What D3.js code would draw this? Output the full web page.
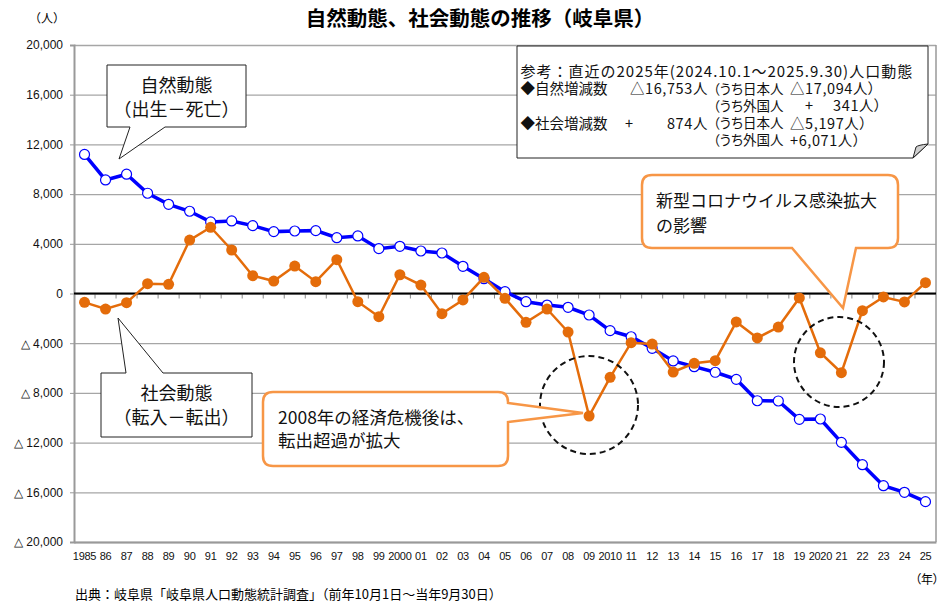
<!DOCTYPE html>
<html>
<head>
<meta charset="utf-8">
<script src="https://cdn.jsdelivr.net/npm/d3@7"></script>
<style>
  body { margin: 0; background: #fff; }
  text { font-family: 'Noto Sans CJK JP', 'Noto Sans', sans-serif; }
</style>
</head>
<body>
<div id="chart"></div>
<script>
const years = [1985, 1986, 1987, 1988, 1989, 1990, 1991, 1992, 1993, 1994, 1995, 1996, 1997, 1998, 1999,
  2000, 2001, 2002, 2003, 2004, 2005, 2006, 2007, 2008, 2009, 2010, 2011, 2012, 2013, 2014, 2015,
  2016, 2017, 2018, 2019, 2020, 2021, 2022, 2023, 2024, 2025]
const yearLabels = ['1985', '86', '87', '88', '89', '90', '91', '92', '93', '94', '95', '96', '97', '98', '99',
  '2000', '01', '02', '03', '04', '05', '06', '07', '08', '09', '2010', '11', '12', '13', '14', '15',
  '16', '17', '18', '19', '2020', '21', '22', '23', '24', '25']

// 自然動態（出生－死亡）
const naturalChange = [11190, 9140, 9600, 8070, 7180, 6620, 5760, 5840, 5460, 4980, 5030, 5060, 4490, 4630, 3610,
  3800, 3420, 3260, 2190, 1190, 150, -660, -930, -1110, -1730, -2990, -3480, -4410, -5430, -5890, -6340,
  -6910, -8630, -8650, -10130, -10100, -11980, -13780, -15470, -16000, -16753]
// 社会動態（転入－転出）
const socialChange = [-710, -1250, -740, 790, 740, 4300, 5330, 3500, 1430, 1000, 2210, 950, 2720, -660, -1870,
  1510, 680, -1620, -520, 1300, -390, -2320, -1250, -3100, -9860, -6750, -3960, -4070, -6320, -5620, -5410,
  -2290, -3580, -2700, -360, -4770, -6370, -1380, -280, -680, 874]

const yTicks = [20000, 16000, 12000, 8000, 4000, 0, -4000, -8000, -12000, -16000, -20000]
const yTickLabels = ['20,000', '16,000', '12,000', '8,000', '4,000', '0',
  '△ 4,000', '△ 8,000', '△ 12,000', '△ 16,000', '△ 20,000']

const width = 941
const height = 603
const margin = { top: 45, left: 74, bottom: 61, right: 5 }
const innerW = width - margin.left - margin.right
const innerH = height - margin.top - margin.bottom

const blue = '#0000ff'
const orange = '#e46c0a'
const calloutOrange = '#f79646'
const gridGray = '#a6a6a6'

const svg = d3.select('#chart')
  .append('svg')
  .attr('width', width)
  .attr('height', height)

const x = d3.scaleBand().domain(years).range([margin.left, margin.left + innerW])
const cx = d => x(d) + x.bandwidth() / 2
const y = d3.scaleLinear().domain([-20000, 20000]).range([margin.top + innerH, margin.top])

// title
svg.append('text')
  .attr('x', 480).attr('y', 19)
  .attr('dy', '0.36em')
  .attr('text-anchor', 'middle')
  .style('font-size', '20.5px')
  .style('font-weight', 'bold')
  .text('自然動態、社会動態の推移（岐阜県）')

svg.append('text')
  .attr('x', 47).attr('y', 19).attr('dy', '0.36em')
  .attr('text-anchor', 'middle')
  .style('font-size', '12px')
  .text('（人）')

// gridlines
svg.append('g')
  .attr('transform', `translate(${margin.left},0)`)
  .call(d3.axisLeft(y).tickValues(yTicks).tickSize(-innerW).tickFormat(''))
  .call(g => g.select('.domain').remove())
  .call(g => g.selectAll('line').attr('stroke', gridGray).attr('stroke-width', 1.3))

// y axis
svg.append('g')
  .attr('transform', `translate(${margin.left},0)`)
  .call(d3.axisLeft(y).tickValues(yTicks).tickSize(4).tickPadding(7)
    .tickFormat((d, i) => yTickLabels[i]))
  .call(g => g.select('.domain').attr('stroke', '#999').attr('stroke-width', 2))
  .call(g => g.selectAll('line').attr('stroke', '#999'))
  .call(g => g.selectAll('text')
    .style('font-family', "'Liberation Sans', Arial, sans-serif")
    .style('font-size', '12px')
    .attr('fill', '#111'))

// x axis
svg.append('g')
  .attr('transform', `translate(0,${margin.top + innerH})`)
  .call(d3.axisBottom(x).tickSize(0).tickPadding(10).tickFormat((d, i) => yearLabels[i]))
  .call(g => g.select('.domain').attr('stroke', '#999').attr('stroke-width', 2))
  .call(g => g.selectAll('text')
    .style('font-family', "'Liberation Sans', Arial, sans-serif")
    .style('font-size', '11px')
    .style('letter-spacing', '-0.3px')
    .attr('fill', '#111'))

// right border
svg.append('line')
  .attr('x1', margin.left + innerW).attr('x2', margin.left + innerW)
  .attr('y1', margin.top).attr('y2', margin.top + innerH)
  .attr('stroke', '#999').attr('stroke-width', 1.5)

// zero line with category ticks
svg.append('g')
  .selectAll('line')
  .data(years.slice(1))
  .join('line')
  .attr('x1', d => x(d)).attr('x2', d => x(d))
  .attr('y1', y(0)).attr('y2', y(0) + 5)
  .attr('stroke', '#888')
svg.append('line')
  .attr('x1', margin.left).attr('x2', margin.left + innerW)
  .attr('y1', y(0)).attr('y2', y(0))
  .attr('stroke', '#000').attr('stroke-width', 2)

// series
const line = d3.line().x(d => cx(d[0])).y(d => y(d[1]))
const natural = years.map((yr, i) => [yr, naturalChange[i]])
const social = years.map((yr, i) => [yr, socialChange[i]])

svg.append('path')
  .datum(natural)
  .attr('d', line)
  .attr('fill', 'none')
  .attr('stroke', blue)
  .attr('stroke-width', 3.5)
svg.append('g')
  .selectAll('circle')
  .data(natural)
  .join('circle')
  .attr('cx', d => cx(d[0])).attr('cy', d => y(d[1]))
  .attr('r', 5)
  .attr('fill', '#fff')
  .attr('stroke', blue)
  .attr('stroke-width', 1.2)

svg.append('path')
  .datum(social)
  .attr('d', line)
  .attr('fill', 'none')
  .attr('stroke', orange)
  .attr('stroke-width', 2.5)
svg.append('g')
  .selectAll('circle')
  .data(social)
  .join('circle')
  .attr('cx', d => cx(d[0])).attr('cy', d => y(d[1]))
  .attr('r', 5.5)
  .attr('fill', orange)

// dashed circles
svg.append('circle')
  .attr('cx', 589).attr('cy', 405).attr('r', 49)
  .attr('fill', 'none').attr('stroke', '#111').attr('stroke-width', 2)
  .attr('stroke-dasharray', '6,4')
svg.append('circle')
  .attr('cx', 839).attr('cy', 362).attr('r', 45)
  .attr('fill', 'none').attr('stroke', '#111').attr('stroke-width', 2)
  .attr('stroke-dasharray', '6,4')

// callouts
function multiline (x0, y0, lines, size, anchor, gap) {
  const t = svg.append('text')
    .attr('text-anchor', anchor)
    .style('font-size', size + 'px')
    .attr('fill', '#111')
  lines.forEach((s, i) => {
    t.append('tspan').attr('x', x0).attr('y', y0 + i * gap).attr('dy', '0.36em').text(s)
  })
}

svg.append('path')
  .attr('d', 'M107,65H246V127H165L119,159L130,127H107Z')
  .attr('fill', '#fff').attr('stroke', '#222').attr('stroke-width', 1)
multiline(176.5, 86, ['自然動態', '（出生－死亡）'], 18, 'middle', 24)

svg.append('path')
  .attr('d', 'M101,373H126L118,318L163,373H252V437H101Z')
  .attr('fill', '#fff').attr('stroke', '#222').attr('stroke-width', 1)
multiline(176.5, 394, ['社会動態', '（転入－転出）'], 18, 'middle', 24)

const r = 10
svg.append('path')
  .attr('d', `M${263 + r},392H${508 - r}Q508,392 508,${392 + r}V403L583,413L508,422V${466 - r}` +
    `Q508,466 ${508 - r},466H${263 + r}Q263,466 263,${466 - r}V${392 + r}Q263,392 ${263 + r},392Z`)
  .attr('fill', '#fff').attr('stroke', calloutOrange).attr('stroke-width', 2.5)
multiline(278, 418, ['2008年の経済危機後は、', '転出超過が拡大'], 17.5, 'start', 23)

svg.append('path')
  .attr('d', `M${642 + r},175H${898 - r}Q898,175 898,${175 + r}V${248 - r}Q898,248 ${898 - r},248` +
    `H856L843,308L792,248H${642 + r}Q642,248 642,${248 - r}V${175 + r}Q642,175 ${642 + r},175Z`)
  .attr('fill', '#fff').attr('stroke', calloutOrange).attr('stroke-width', 2.5)
multiline(656, 201, ['新型コロナウイルス感染拡大', 'の影響'], 17, 'start', 24.5)

// note box with folded corner
svg.append('path')
  .attr('d', 'M517,46H928V144L913,158H517Z')
  .attr('fill', '#fff').attr('stroke', '#222').attr('stroke-width', 1)
svg.append('path')
  .attr('d', 'M913,158L916,147Q918,145 928,144Z')
  .attr('fill', '#d0d0d0').attr('stroke', '#222').attr('stroke-width', 1)

// [x, text, anchor, size, letter-spacing, proportional]
const noteRows = [
  [[520.5, '参考：直近の2025年(2024.10.1～2025.9.30)人口動態', 'start', 15, 1, false]],
  [[520.5, '◆自然増減数', 'start', 14.5, 0, false], [708, '△16,753人', 'end', 14.5, 0.6, false],
    [713, '（うち日本人', 'start', 13.5, 0, true], [790, '△17,094人）', 'start', 14.5, 0.6, true]],
  [[713, '（うち外国人', 'start', 13.5, 0, true], [805, '+', 'start', 14.5, 0, false],
    [882, '341人）', 'end', 14.5, 0.6, true]],
  [[520.5, '◆社会増減数', 'start', 14.5, 0, false], [625, '+', 'start', 14.5, 0, false],
    [708, '874人', 'end', 14.5, 0.6, false], [713, '（うち日本人', 'start', 13.5, 0, true],
    [790, '△5,197人）', 'start', 14.5, 0.6, true]],
  [[713, '（うち外国人', 'start', 13.5, 0, true], [790, '+6,071人）', 'start', 14.5, 0.6, true]]
]
const note = svg.append('text').attr('fill', '#111')
noteRows.forEach((row, i) => {
  row.forEach(([px, s, anchor, size, ls, prop]) => {
    note.append('tspan')
      .attr('x', px).attr('y', 72 + i * 17.1).attr('dy', '0.36em')
      .attr('text-anchor', anchor)
      .style('font-size', size + 'px')
      .style('letter-spacing', ls + 'px')
      .style('font-feature-settings', prop ? "'palt'" : 'normal')
      .text(s)
  })
})

// footer
svg.append('text')
  .attr('x', 939).attr('y', 580).attr('dy', '0.36em')
  .attr('text-anchor', 'end')
  .style('font-size', '12px')
  .style('font-feature-settings', "'palt'")
  .text('（年）')
svg.append('text')
  .attr('x', 75).attr('y', 594).attr('dy', '0.36em')
  .style('font-size', '13px')
  .text('出典：岐阜県「岐阜県人口動態統計調査」（前年10月1日～当年9月30日）')
</script>
</body>
</html>
